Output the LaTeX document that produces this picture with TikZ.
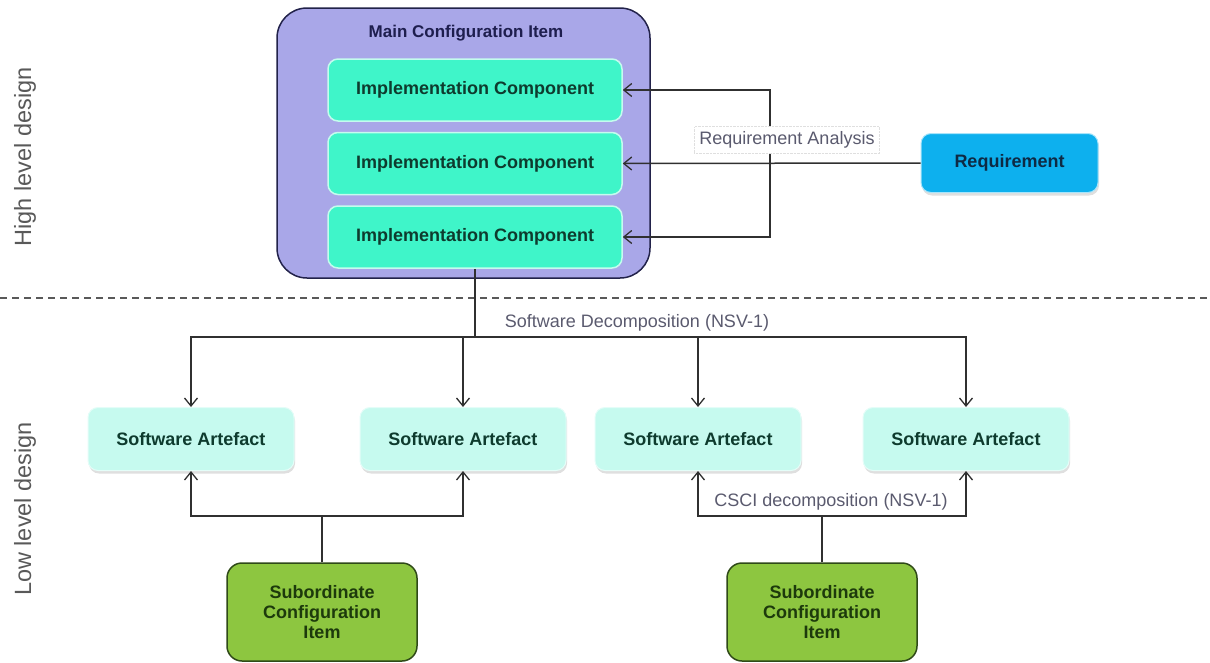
\documentclass[tikz,border=0pt]{standalone}
\usepackage{fontspec}
\setmainfont{Liberation Sans}
\usetikzlibrary{arrows.meta,shadows}
\definecolor{mainfill}{HTML}{A9A7E8}
\definecolor{mainedge}{HTML}{22224A}
\definecolor{maintext}{HTML}{1E1E4E}
\definecolor{icfill}{HTML}{3FF5C9}
\definecolor{icedge}{HTML}{C4FCEE}
\definecolor{ictext}{HTML}{0E3B2E}
\definecolor{safill}{HTML}{C6FAEF}
\definecolor{saedge}{HTML}{E4FDF8}
\definecolor{reqfill}{HTML}{0DB0EE}
\definecolor{reqedge}{HTML}{A8E4FA}
\definecolor{reqtext}{HTML}{0E2A44}
\definecolor{subfill}{HTML}{8DC640}
\definecolor{subedge}{HTML}{2F4A18}
\definecolor{subtext}{HTML}{1D3A0C}
\definecolor{lbl}{HTML}{5A5A6E}
\definecolor{side}{HTML}{595959}
\definecolor{conn}{HTML}{303030}
\begin{document}
\begin{tikzpicture}[x=1pt,y=-1pt,
  boxtext/.style={font=\bfseries\fontsize{18}{20}\selectfont, align=center, inner sep=0pt},
  mainbox/.style={draw=mainedge, line width=1.5pt, fill=mainfill, rounded corners=30pt, inner sep=0pt},
  icbox/.style={boxtext, draw=icedge, line width=1.5pt, fill=icfill, text=ictext, rounded corners=10pt, minimum width=294pt, minimum height=62pt},
  sabox/.style={boxtext, draw=saedge, line width=1pt, fill=safill, text=ictext, rounded corners=10pt, minimum width=206pt, minimum height=63pt,
     drop shadow={shadow xshift=1pt, shadow yshift=-3pt, opacity=0.25}},
  reqbox/.style={boxtext, draw=reqedge, line width=1pt, fill=reqfill, text=reqtext, rounded corners=10pt, minimum width=177pt, minimum height=59pt,
     drop shadow={shadow xshift=1pt, shadow yshift=-3pt, opacity=0.25}},
  subbox/.style={boxtext, draw=subedge, line width=1.5pt, fill=subfill, text=subtext, rounded corners=15pt, minimum width=190pt, minimum height=98pt},
  conlabel/.style={font=\fontsize{18}{20}\selectfont, text=lbl, inner sep=2pt},
  sidelabel/.style={font=\fontsize{23.5}{26}\selectfont, text=side, rotate=90, inner sep=0pt},
  conn/.style={draw=conn, line width=1.5pt},
  arr/.style={conn, -{Straight Barb[length=8pt,width=13pt,line width=1.3pt]}}
]
\useasboundingbox (0,0) rectangle (1210,662);

% side labels and separator
\node[sidelabel] (hl) at (25,157) {High level design};
\node[sidelabel] (ll) at (25,509) {Low level design};
\coordinate (dl) at (0,298);
\coordinate (dr) at (1210,298);
\draw[draw=side, line width=1.5pt, dash pattern=on 7pt off 5pt] (dl) -- (dr);

% main configuration item
\node[mainbox, minimum width=373pt, minimum height=270pt] (main) at (463.5,143) {};
\node[font=\bfseries\fontsize{17}{19}\selectfont, text=maintext] (mtitle) at (466,33) {Main Configuration Item};
\node[icbox] (ic1) at (475,90) {Implementation Component};
\node[icbox] (ic2) at (475,163.5) {Implementation Component};
\node[icbox] (ic3) at (475,237) {Implementation Component};

% requirement
\node[reqbox] (req) at (1009.5,163) {Requirement};

% software artefacts
\node[sabox] (sa1) at (191,439) {Software Artefact};
\node[sabox] (sa2) at (463,439) {Software Artefact};
\node[sabox] (sa3) at (698,439) {Software Artefact};
\node[sabox] (sa4) at (966,439) {Software Artefact};

% subordinate configuration items
\node[subbox] (sub1) at (322,612) {Subordinate\\Configuration\\Item};
\node[subbox] (sub2) at (822,612) {Subordinate\\Configuration\\Item};

% requirement analysis connectors
\coordinate (rj) at (770,163.5);
\draw[arr] (req.west) -- (ic2.east);
\draw[arr] (rj) |- (ic1.east);
\draw[arr] (rj) |- (ic3.east);
\node[conlabel, fill=white, draw=gray!25, densely dotted, inner sep=5pt] (ra) at (787,140) {Requirement Analysis};

% software decomposition
\coordinate (sd) at (475,337);
\draw[conn] (ic3.south) -- (sd);
\draw[arr] (sd) -| (sa1.north);
\draw[arr] (sd) -| (sa2.north);
\draw[arr] (sd) -| (sa3.north);
\draw[arr] (sd) -| (sa4.north);
\node[conlabel] (sdl) at (637,323) {Software Decomposition (NSV-1)};

% CSCI decomposition
\coordinate (c1) at (322,516);
\coordinate (c2) at (822,516);
\draw[conn] (sub1.north) -- (c1);
\draw[arr] (c1) -| (sa1.south);
\draw[arr] (c1) -| (sa2.south);
\draw[conn] (sub2.north) -- (c2);
\draw[arr] (c2) -| (sa3.south);
\draw[arr] (c2) -| (sa4.south);
\node[conlabel] (csl) at (831,502) {CSCI decomposition (NSV-1)};
\end{tikzpicture}
\end{document}
